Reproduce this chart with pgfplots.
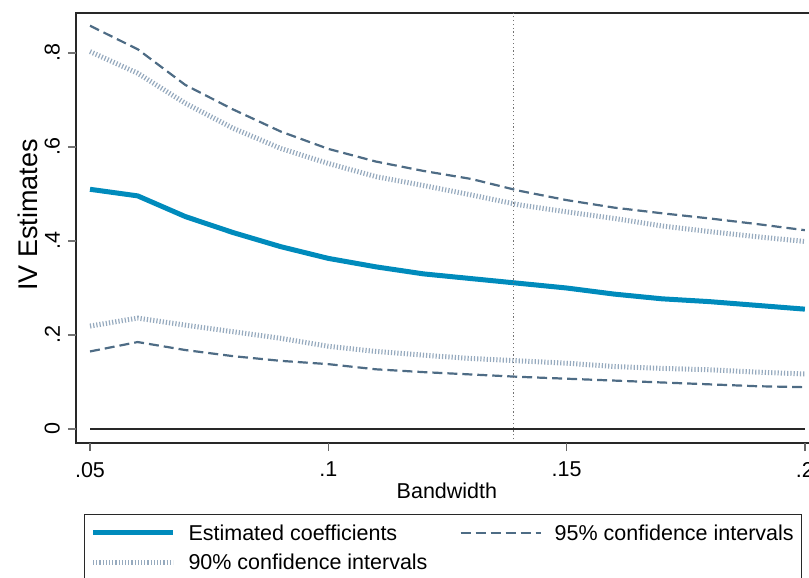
\documentclass[border=0pt]{standalone}
\usepackage{pgfplots}
\pgfplotsset{compat=1.18}
\usepackage{pgfplotstable}
\usepackage{fontspec}
\setmainfont{Liberation Sans}
\definecolor{ebblue}{RGB}{0,139,188}
\definecolor{ciDash}{RGB}{78,108,133}
\definecolor{ciDot}{RGB}{150,170,190}
\definecolor{axcol}{RGB}{40,40,40}
\pgfplotstableread{
x     est    u95    u90    l90    l95
0.05  0.510  0.858  0.803  0.219  0.165
0.06  0.496  0.808  0.757  0.236  0.185
0.07  0.452  0.732  0.693  0.221  0.168
0.08  0.418  0.680  0.640  0.207  0.155
0.09  0.388  0.633  0.597  0.193  0.145
0.10  0.363  0.596  0.565  0.176  0.138
0.11  0.345  0.569  0.537  0.165  0.127
0.12  0.330  0.549  0.518  0.157  0.121
0.13  0.320  0.532  0.498  0.150  0.116
0.14  0.310  0.507  0.477  0.145  0.111
0.15  0.300  0.487  0.462  0.140  0.107
0.16  0.287  0.471  0.448  0.133  0.103
0.17  0.277  0.459  0.432  0.129  0.099
0.18  0.271  0.448  0.420  0.126  0.095
0.19  0.263  0.436  0.409  0.121  0.091
0.20  0.255  0.423  0.399  0.117  0.089
}\datatab
\newcommand{\ylab}[2]{\node[rotate=90, anchor=south, inner sep=0pt,
  font=\fontsize{21.5}{25}\selectfont] at ([xshift=-16pt]axis cs:0.04706,#1) {#2};
  \draw[black!55, line width=1.3pt] (axis cs:0.04706,#1) -- ++(-8pt,0pt);}
\begin{document}
\begin{tikzpicture}
\begin{axis}[
  at={(76pt,-443pt)}, anchor=south west,
  scale only axis, width=736pt, height=430pt,
  xmin=0.04706, xmax=0.2015,
  ymin=-0.0298, ymax=0.8851,
  axis line style={draw=axcol, line width=1.3pt},
  xtick pos=bottom, ytick pos=left,
  tick align=outside, major tick length=8pt,
  every major tick/.append style={draw=black!55, line width=1.3pt},
  xtick={0.05,0.1,0.15,0.2}, xticklabels={.05,.1,.15,.2},
  ytick={0,0.2,0.4,0.6,0.8}, yticklabels={},
  ticklabel style={font=\fontsize{21.5}{25}\selectfont},
  xticklabel style={anchor=north, inner sep=0pt},
  xticklabel shift=11pt,
  xlabel={Bandwidth},
  ylabel={IV Estimates},
  xlabel style={font=\fontsize{21.5}{25}\selectfont, at={(axis description cs:0.504,-0.112)}, anchor=center},
  ylabel style={font=\fontsize{27}{32}\selectfont, at={(axis description cs:-0.065,0.53)}, anchor=center},
  legend columns=2,
  legend cell align=left,
  legend style={at={(axis description cs:0.0109,-0.165)}, anchor=north west,
    draw=axcol, line width=1pt, inner xsep=6pt, inner ysep=8pt,
    row sep=8pt,
    font=\fontsize{21.5}{25}\selectfont,
    /tikz/every odd column/.append style={column sep=11pt},
    /tikz/every even column/.append style={column sep=30pt}},
  legend image code/.code={\draw[#1] (0pt,0pt) -- (80pt,0pt);},
  clip=false,
]
\addplot[ebblue, line width=5pt] table[x=x,y=est] {\datatab};
\addlegendentry{Estimated coefficients}
\addplot[ciDash, line width=2.2pt, dash pattern=on 10pt off 5pt] table[x=x,y=u95] {\datatab};
\addlegendentry{95\% confidence intervals}
\addplot[ciDot, line width=5pt, dash pattern=on 1.2pt off 2pt] table[x=x,y=u90] {\datatab};
\addlegendentry{90\% confidence intervals}
\addplot[ciDot, line width=5pt, dash pattern=on 1.2pt off 2pt, forget plot] table[x=x,y=l90] {\datatab};
\addplot[ciDash, line width=2.2pt, dash pattern=on 10pt off 5pt, forget plot] table[x=x,y=l95] {\datatab};
\addplot[axcol, line width=1.5pt, forget plot] coordinates {(0.05,0) (0.2,0)};
\addplot[black!55, line width=1.2pt, dash pattern=on 1.2pt off 2.6pt, forget plot] coordinates {(0.1388,-0.0298) (0.1388,0.8851)};
% bottom spine, x ticks, y ticks and their labels
\draw[axcol, line width=1.3pt] (rel axis cs:0,0) -- (rel axis cs:1,0);
\pgfplotsinvokeforeach{0.05,0.1,0.15,0.2}{
  \draw[black!60, line width=1.3pt] (axis cs:#1,-0.0298) -- ++(0pt,-8pt);
}
\ylab{0}{0}
\ylab{0.2}{.2}
\ylab{0.4}{.4}
\ylab{0.6}{.6}
\ylab{0.8}{.8}
\end{axis}
\pgfresetboundingbox
\useasboundingbox (0,0) rectangle (809pt,-578pt);
\end{tikzpicture}
\end{document}
